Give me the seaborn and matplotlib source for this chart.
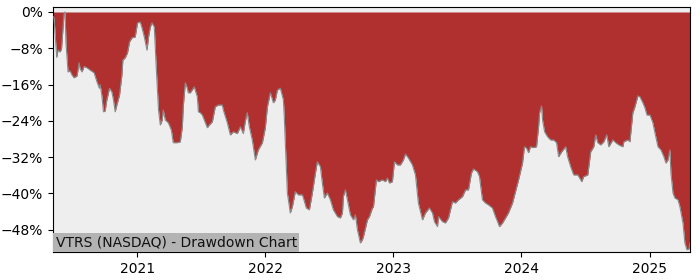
import numpy as np
import pandas as pd
import matplotlib
matplotlib.use("Agg")
import matplotlib.pyplot as plt
import seaborn as sns
from matplotlib.ticker import PercentFormatter

# Decimal-year dates and drawdown values (%)
years = [
    2020.344, 2020.352, 2020.373, 2020.383, 2020.398, 2020.410, 2020.430, 2020.438, 2020.445, 2020.461,
    2020.477, 2020.492, 2020.508, 2020.531, 2020.547, 2020.555, 2020.570, 2020.586, 2020.594, 2020.609,
    2020.633, 2020.664, 2020.685, 2020.705, 2020.711, 2020.724, 2020.737, 2020.750, 2020.763, 2020.784,
    2020.802, 2020.815, 2020.828, 2020.841, 2020.862, 2020.880, 2020.888, 2020.906, 2020.924, 2020.940,
    2020.959, 2020.984, 2021.002, 2021.023, 2021.037, 2021.055, 2021.076, 2021.088, 2021.102, 2021.115,
    2021.133, 2021.148, 2021.166, 2021.180, 2021.195, 2021.203, 2021.219, 2021.242, 2021.266, 2021.281,
    2021.313, 2021.336, 2021.352, 2021.359, 2021.375, 2021.391, 2021.398, 2021.414, 2021.438, 2021.445,
    2021.469, 2021.477, 2021.492, 2021.508, 2021.523, 2021.547, 2021.563, 2021.586, 2021.609, 2021.633,
    2021.664, 2021.672, 2021.703, 2021.727, 2021.750, 2021.781, 2021.805, 2021.828, 2021.844, 2021.859,
    2021.875, 2021.898, 2021.922, 2021.945, 2021.977, 2022.000, 2022.016, 2022.039, 2022.063, 2022.078,
    2022.094, 2022.117, 2022.141, 2022.148, 2022.172, 2022.195, 2022.211, 2022.234, 2022.258, 2022.289,
    2022.297, 2022.320, 2022.344, 2022.367, 2022.391, 2022.406, 2022.430, 2022.445, 2022.461, 2022.484,
    2022.508, 2022.531, 2022.563, 2022.586, 2022.602, 2022.609, 2022.625, 2022.641, 2022.664, 2022.688,
    2022.703, 2022.719, 2022.742, 2022.758, 2022.766, 2022.797, 2022.813, 2022.836, 2022.844, 2022.867,
    2022.883, 2022.914, 2022.938, 2022.953, 2022.969, 2022.992, 2023.008, 2023.031, 2023.055, 2023.078,
    2023.094, 2023.117, 2023.148, 2023.172, 2023.195, 2023.227, 2023.250, 2023.281, 2023.305, 2023.320,
    2023.344, 2023.352, 2023.383, 2023.406, 2023.430, 2023.461, 2023.484, 2023.508, 2023.539, 2023.563,
    2023.586, 2023.609, 2023.625, 2023.656, 2023.672, 2023.695, 2023.719, 2023.742, 2023.773, 2023.797,
    2023.813, 2023.828, 2023.852, 2023.875, 2023.898, 2023.930, 2023.953, 2023.977, 2024.008, 2024.023,
    2024.039, 2024.055, 2024.070, 2024.094, 2024.117, 2024.133, 2024.141, 2024.156, 2024.164, 2024.180,
    2024.203, 2024.227, 2024.250, 2024.273, 2024.289, 2024.313, 2024.344, 2024.359, 2024.383, 2024.406,
    2024.438, 2024.453, 2024.469, 2024.484, 2024.516, 2024.539, 2024.563, 2024.578, 2024.594, 2024.617,
    2024.641, 2024.664, 2024.680, 2024.711, 2024.734, 2024.758, 2024.789, 2024.797, 2024.828, 2024.844,
    2024.867, 2024.883, 2024.906, 2024.922, 2024.945, 2024.961, 2024.977, 2025.000, 2025.023, 2025.039,
    2025.063, 2025.086, 2025.109, 2025.125, 2025.141, 2025.156, 2025.164, 2025.180, 2025.195, 2025.219,
    2025.234, 2025.258, 2025.273, 2025.289, 2025.305, 2025.313,
]
drawdown = [
    -1.0, -1.3, -10.0, -8.4, -8.8, -8.2, -0.4, 0.0, -6.8, -13.2,
    -13.0, -13.9, -14.5, -14.1, -11.2, -12.5, -13.2, -12.0, -12.1, -12.3,
    -12.8, -13.4, -15.3, -16.8, -16.0, -18.3, -22.0, -21.8, -19.4, -16.8,
    -17.6, -19.4, -22.0, -20.5, -18.3, -14.0, -10.6, -10.1, -9.0, -6.6,
    -5.7, -5.5, -2.4, -2.2, -3.5, -5.5, -8.4, -5.5, -3.3, -2.4,
    -3.3, -12.1, -21.6, -24.9, -23.8, -21.6, -23.8, -24.4, -26.0, -28.8,
    -28.8, -28.6, -25.3, -20.9, -15.6, -16.8, -17.8, -17.8, -16.8, -16.5,
    -18.7, -22.0, -22.2, -22.7, -23.8, -25.5, -24.9, -24.2, -20.9, -20.5,
    -20.5, -21.6, -24.4, -27.1, -26.4, -26.8, -25.3, -26.8, -24.0, -22.2,
    -25.3, -28.2, -32.6, -30.4, -28.8, -25.5, -20.9, -17.8, -20.0, -19.4,
    -17.2, -16.8, -19.4, -23.1, -39.9, -44.3, -42.9, -39.6, -40.3, -40.3,
    -41.0, -43.2, -43.6, -39.9, -35.5, -33.0, -34.1, -37.7, -41.0, -39.9,
    -41.4, -43.6, -45.1, -45.4, -44.3, -40.7, -39.2, -41.4, -44.7, -45.8,
    -44.7, -48.0, -50.9, -50.2, -49.5, -45.8, -45.1, -43.2, -43.0, -37.0,
    -37.4, -37.0, -37.4, -36.6, -37.7, -37.4, -33.0, -33.7, -33.7, -32.6,
    -31.3, -32.2, -33.7, -35.9, -42.1, -45.8, -44.3, -43.2, -44.3, -46.2,
    -47.3, -45.1, -46.2, -46.5, -45.4, -41.8, -42.1, -41.4, -40.7, -39.2,
    -39.2, -35.5, -34.6, -35.2, -36.3, -41.4, -42.1, -42.5, -43.2, -45.1,
    -46.2, -47.3, -46.5, -45.4, -44.3, -42.1, -39.6, -37.0, -33.3, -29.7,
    -30.0, -31.0, -29.7, -29.9, -29.7, -25.3, -22.2, -20.7, -23.8, -26.4,
    -27.5, -28.2, -28.2, -28.8, -31.9, -30.8, -29.7, -31.9, -34.1, -35.9,
    -35.9, -36.6, -37.4, -36.3, -35.9, -30.8, -29.7, -27.1, -28.8, -29.3,
    -28.6, -27.1, -29.7, -28.2, -28.8, -29.3, -29.7, -28.6, -28.2, -28.6,
    -22.2, -20.9, -18.5, -18.7, -20.0, -21.1, -22.7, -22.7, -24.4, -26.6,
    -29.7, -30.4, -31.9, -33.3, -32.6, -30.4, -35.5, -39.9, -41.0, -41.4,
    -42.9, -46.5, -50.9, -52.4, -52.2, -50.9,
]
y_ticks = [0, -8, -16, -24, -32, -40, -48]
x_tick_years = [2021, 2022, 2023, 2024, 2025]
title_text = "VTRS (NASDAQ) - Drawdown Chart"


def to_datetime(y):
    yr = int(np.floor(y))
    start = pd.Timestamp(f"{yr}-01-01")
    end = pd.Timestamp(f"{yr + 1}-01-01")
    return start + (end - start) * (y - yr)


df = pd.DataFrame({
    "date": [to_datetime(v) for v in years],
    "drawdown": drawdown,
})

fig = plt.figure(figsize=(7, 2.8), dpi=100)
ax = fig.add_axes([53 / 700, 28 / 280, 637 / 700, 245 / 280])
ax.set_facecolor("#eeeeee")

ax.fill_between(df["date"], df["drawdown"], 0, color="#b03030", linewidth=0, zorder=2)
sns.lineplot(data=df, x="date", y="drawdown", ax=ax, color="#8a8a8a", linewidth=0.8, zorder=3)

ax.set_xlim(df["date"].iloc[0], df["date"].iloc[-1])
ax.set_ylim(-52.9, 1.1)
ax.set_yticks(y_ticks)
ax.yaxis.set_major_formatter(PercentFormatter(decimals=0))
ax.set_xticks([pd.Timestamp(f"{y}-01-01") for y in x_tick_years])
ax.set_xticklabels([str(y) for y in x_tick_years])
ax.set_xlabel("")
ax.set_ylabel("")
ax.tick_params(labelsize=10)

ax.text(0.004, 0.012, title_text, transform=ax.transAxes, ha="left", va="bottom",
        fontsize=10, color="#111111", zorder=5,
        bbox=dict(boxstyle="square,pad=0.18", facecolor="#b3b3b3", edgecolor="none"))

fig.savefig("out.png", dpi=100)
